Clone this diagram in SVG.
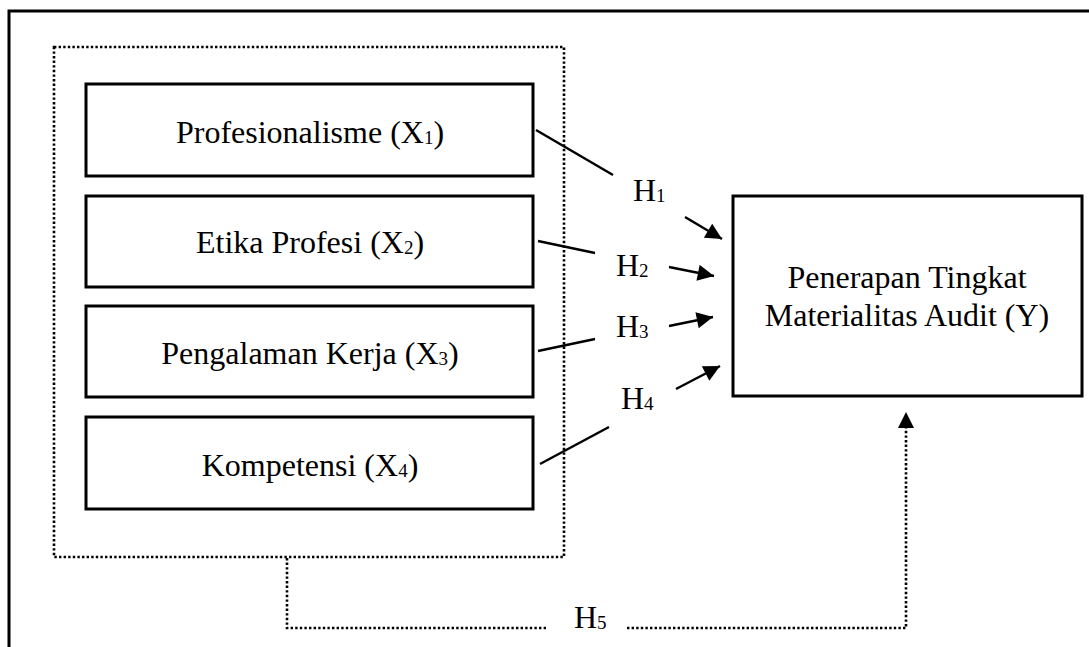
<svg xmlns="http://www.w3.org/2000/svg" width="1089" height="647" viewBox="0 0 1089 647">
<style>
.box{fill:#fff;stroke:#000;stroke-width:3}
.dot{fill:none;stroke:#000;stroke-width:2.6;stroke-dasharray:2.4 2.2}
.ln{fill:none;stroke:#000;stroke-width:2.5}
text{font-family:"Liberation Serif","Times New Roman",serif;font-size:32px;fill:#000}
.c{text-anchor:middle}
.s{font-size:19px}
</style>
<defs>
<marker id="ah" viewBox="0 0 10 10" refX="10" refY="5" markerWidth="7" markerHeight="6.5" markerUnits="strokeWidth" orient="auto">
<path d="M0,0 L10,5 L0,10 z" fill="#000"/>
</marker>
</defs>
<rect x="0" y="0" width="1089" height="647" fill="#fff"/>
<path d="M9,647 V11 H1089" fill="none" stroke="#000" stroke-width="3"/>
<rect id="group" x="54" y="47" width="510" height="510" class="dot"/>
<g id="x1"><rect class="box" x="86" y="84" width="447" height="92"/><text class="c" x="310" y="143">Profesionalisme (X<tspan class="s" dy="1">1</tspan><tspan dy="-1">)</tspan></text></g>
<g id="x2"><rect class="box" x="86" y="196" width="447" height="91"/><text class="c" x="310" y="253">Etika Profesi (X<tspan class="s" dy="1">2</tspan><tspan dy="-1">)</tspan></text></g>
<g id="x3"><rect class="box" x="86" y="306" width="447" height="91"/><text class="c" x="310" y="364">Pengalaman Kerja (X<tspan class="s" dy="1">3</tspan><tspan dy="-1">)</tspan></text></g>
<g id="x4"><rect class="box" x="86" y="417" width="447" height="92"/><text class="c" x="310" y="476">Kompetensi (X<tspan class="s" dy="1">4</tspan><tspan dy="-1">)</tspan></text></g>
<g id="y"><rect class="box" x="733" y="196" width="349" height="200"/><text class="c" x="907" y="288">Penerapan Tingkat</text><text class="c" x="907" y="326">Materialitas Audit (Y)</text></g>
<g id="connectors">
<line class="ln" x1="536" y1="130" x2="613" y2="175"/>
<line class="ln" x1="685" y1="217" x2="722" y2="239" marker-end="url(#ah)"/>
<line class="ln" x1="538" y1="241" x2="595" y2="253"/>
<line class="ln" x1="669" y1="267" x2="714" y2="276" marker-end="url(#ah)"/>
<line class="ln" x1="538" y1="351" x2="595" y2="339"/>
<line class="ln" x1="669" y1="326" x2="713" y2="317" marker-end="url(#ah)"/>
<line class="ln" x1="540" y1="464" x2="609" y2="427"/>
<line class="ln" x1="676" y1="389" x2="720" y2="366" marker-end="url(#ah)"/>
<path class="dot" d="M287,558 V628 H548"/>
<path class="dot" d="M627,628 H906 V428"/>
<path d="M906,412 L914,428 L898,428 z" fill="#000"/>
</g>
<g id="labels">
<text x="633" y="201">H<tspan class="s" dy="1">1</tspan></text>
<text x="616" y="276">H<tspan class="s" dy="1">2</tspan></text>
<text x="616" y="337">H<tspan class="s" dy="1">3</tspan></text>
<text x="621" y="409">H<tspan class="s" dy="1">4</tspan></text>
<text x="574" y="628">H<tspan class="s" dy="1">5</tspan></text>
</g>
</svg>
